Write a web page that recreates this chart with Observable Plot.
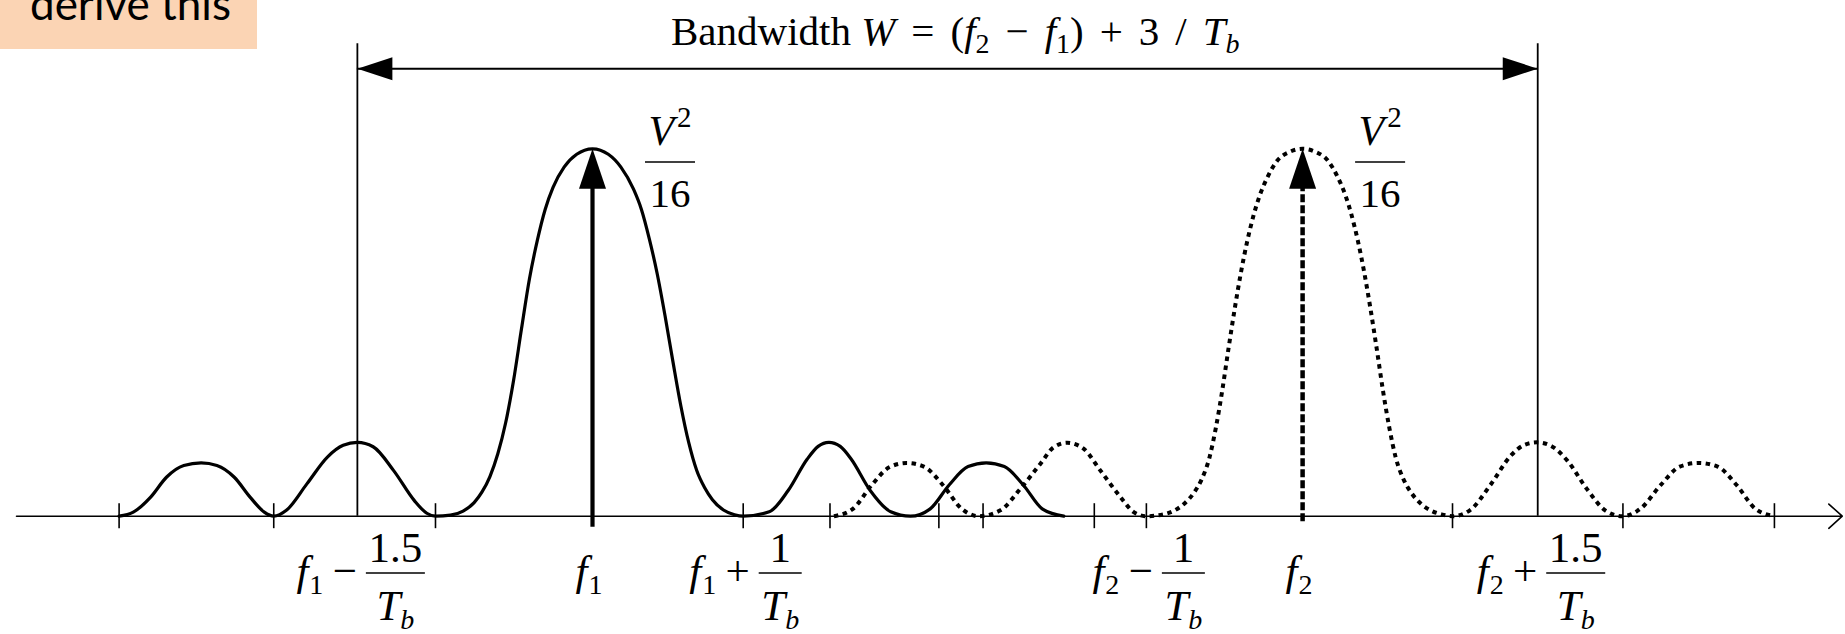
<!DOCTYPE html>
<html>
<head>
<meta charset="utf-8">
<script src="https://cdn.jsdelivr.net/npm/d3@7"></script>
<script src="https://cdn.jsdelivr.net/npm/@observablehq/plot@0.6"></script>
<style>
  html, body { margin: 0; padding: 0; background: #fff; }
  #wrap { position: relative; width: 1845px; height: 634px; overflow: hidden; }
  #note { position: absolute; left: 0; top: 0; }
</style>
</head>
<body>
<div id="wrap">
  <svg id="note" width="257" height="49">
    <rect width="257" height="49" fill="#FBD4B4"></rect>
    <text x="30" y="20" font-family="Lato, 'Open Sans', sans-serif" font-size="44" fill="#000">derive this</text>
  </svg>
</div>
<script>
// Frequencies are in units of 1/Tb measured from f1; power is relative to the V²/16 peak.
const f1 = 0;
const f2 = 4.5;
const peakPower = 1;

// Power spectrum of the f1 tone (solid): [frequency, power]
const toneOne = [
  [-3.00, 0], [-2.91, 0.011], [-2.80, 0.052], [-2.70, 0.106], [-2.59, 0.138], [-2.48, 0.145],
  [-2.38, 0.138], [-2.27, 0.106], [-2.17, 0.052], [-2.08, 0.011], [-2.02, 0],
  [-1.94, 0.016], [-1.81, 0.088], [-1.68, 0.161], [-1.58, 0.193], [-1.49, 0.201], [-1.39, 0.189],
  [-1.26, 0.124], [-1.13, 0.043], [-1.05, 0.008], [-0.995, 0],
  [-0.90, 0.003], [-0.82, 0.014], [-0.75, 0.037], [-0.70, 0.066], [-0.65, 0.108], [-0.60, 0.17],
  [-0.55, 0.255], [-0.50, 0.37], [-0.45, 0.51], [-0.40, 0.645], [-0.35, 0.75], [-0.30, 0.835],
  [-0.25, 0.895], [-0.18, 0.95], [-0.10, 0.985], [0, 1],
  [0.10, 0.985], [0.18, 0.95], [0.26, 0.89], [0.31, 0.835], [0.36, 0.755], [0.41, 0.66],
  [0.46, 0.545], [0.51, 0.42], [0.56, 0.30], [0.61, 0.20], [0.66, 0.125], [0.71, 0.078],
  [0.76, 0.045], [0.83, 0.017], [0.90, 0.004], [0.955, 0],
  [1.12, 0.012], [1.24, 0.07], [1.36, 0.155], [1.43, 0.19], [1.498, 0.201], [1.57, 0.19],
  [1.64, 0.155], [1.76, 0.07], [1.89, 0.012], [2.015, 0],
  [2.14, 0.02], [2.26, 0.085], [2.38, 0.135], [2.495, 0.145], [2.61, 0.135], [2.73, 0.085],
  [2.85, 0.02], [2.987, 0]
];

// Power spectrum of the f2 tone (dashed): [frequency, power]
const toneTwo = [
  [1.53, 0], [1.65, 0.02], [1.77, 0.085], [1.88, 0.133], [1.99, 0.145], [2.10, 0.135],
  [2.22, 0.085], [2.34, 0.02], [2.448, 0],
  [2.585, 0.016], [2.712, 0.075], [2.839, 0.143], [2.923, 0.188], [3.008, 0.200], [3.114, 0.183],
  [3.219, 0.124], [3.346, 0.052], [3.430, 0.011], [3.51, 0],
  [3.62, 0.005], [3.69, 0.016], [3.75, 0.034], [3.81, 0.063], [3.86, 0.10], [3.91, 0.16],
  [3.95, 0.24], [3.99, 0.34], [4.03, 0.455], [4.07, 0.565], [4.11, 0.665], [4.15, 0.75],
  [4.19, 0.82], [4.23, 0.875], [4.28, 0.925], [4.34, 0.968], [4.42, 0.992], [4.5, 1],
  [4.58, 0.992], [4.66, 0.968], [4.72, 0.925], [4.77, 0.875], [4.81, 0.82], [4.85, 0.75],
  [4.89, 0.665], [4.93, 0.565], [4.97, 0.455], [5.01, 0.34], [5.05, 0.24], [5.09, 0.16],
  [5.14, 0.10], [5.19, 0.063], [5.25, 0.034], [5.31, 0.016], [5.38, 0.005], [5.449, 0],
  [5.56, 0.016], [5.69, 0.085], [5.82, 0.165], [5.90, 0.193], [5.986, 0.201], [6.08, 0.19],
  [6.18, 0.15], [6.30, 0.075], [6.42, 0.015], [6.526, 0],
  [6.64, 0.02], [6.77, 0.085], [6.89, 0.135], [7.01, 0.145], [7.13, 0.135], [7.25, 0.085],
  [7.37, 0.02], [7.49, 0]
];

// Tick marks along the frequency axis
const tickFreqs = [-3.00, -2.02, -0.995, 0.955, 1.505, 2.195, 2.475, 3.18, 3.51, 5.45, 6.53, 7.49];

// Bandwidth edges (f1 − 1.5/Tb and f2 + 1.5/Tb)
const bandEdges = [-1.49, 5.99];

// Labels under the axis
const labelFreqs = [-1.49, 0, 0.955, 3.51, 4.5, 5.99];
const labelBase  = ["f", "f", "f", "f", "f", "f"];
const labelSub   = ["1", "1", "1", "2", "2", "2"];
const labelOp    = ["−", "", "+", "−", "", "+"];
const labelNum   = ["1.5", "", "1", "1", "", "1.5"];

// Peaks that carry the V²/16 annotation
const peakFreqs = [f1, f2];

// Axis extent and bandwidth arrow levels
const axisFrom = -3.65;
const axisTo = 7.92;
const bandArrowLevel = 1.218;
const bandLineTop = 1.286;

// Filled arrowheads with the tip at the origin
const headUp = { draw(ctx) { ctx.moveTo(0, 0); ctx.lineTo(-13.5, 40); ctx.lineTo(13.5, 40); ctx.closePath(); } };
const headLeft = { draw(ctx) { ctx.moveTo(0, 0); ctx.lineTo(35, -11.5); ctx.lineTo(35, 11.5); ctx.closePath(); } };
const headRight = { draw(ctx) { ctx.moveTo(0, 0); ctx.lineTo(-35, -11.5); ctx.lineTo(-35, 11.5); ctx.closePath(); } };

const pxPerUnit = 157.8, f1px = 592;
const plot = Plot.plot({
  width: 1845,
  height: 634,
  marginTop: 0, marginRight: 0, marginBottom: 0, marginLeft: 0,
  style: { background: "#fff", overflow: "visible" },
  x: { domain: [(0 - f1px) / pxPerUnit, (1845 - f1px) / pxPerUnit], range: [0, 1845], axis: null },
  y: { domain: [0, 1], range: [515.7, 148.3], axis: null },
  marks: [
    // frequency axis with open arrowhead
    Plot.arrow([{a: axisFrom, b: axisTo}], {x1: "a", x2: "b", y1: 0, y2: 0, stroke: "#000", strokeWidth: 1.6, headLength: 17, headAngle: 84}),
    Plot.ruleX(tickFreqs, {y1: -0.034, y2: 0.034, stroke: "#000", strokeWidth: 1.6}),
    // bandwidth markers
    Plot.ruleX(bandEdges, {y1: 0, y2: bandLineTop, stroke: "#000", strokeWidth: 1.8}),
    Plot.ruleY([bandArrowLevel], {x1: bandEdges[0], x2: bandEdges[1], stroke: "#000", strokeWidth: 2}),
    Plot.dot([bandEdges[0]], {x: d => d, y: bandArrowLevel, symbol: headLeft, fill: "#000", stroke: "none"}),
    Plot.dot([bandEdges[1]], {x: d => d, y: bandArrowLevel, symbol: headRight, fill: "#000", stroke: "none"}),
    // spectra
    Plot.line(toneOne, {x: d => d[0], y: d => d[1], curve: "monotone-x", stroke: "#000", strokeWidth: 3.2}),
    Plot.line(toneTwo, {x: d => d[0], y: d => d[1], curve: "monotone-x", stroke: "#000", strokeWidth: 4, strokeDasharray: "4.5,4.5", strokeLinecap: "butt"}),
    // carrier impulses
    Plot.ruleX([f1], {y1: -0.03, y2: peakPower * 0.9, stroke: "#000", strokeWidth: 4.2}),
    Plot.ruleX([f2], {y1: -0.015, y2: peakPower * 0.9, stroke: "#000", strokeWidth: 4.5, strokeDasharray: "8,3", strokeLinecap: "butt"}),
    Plot.dot(peakFreqs, {x: d => d, y: peakPower, symbol: headUp, fill: "#000", stroke: "none"})
  ]
});

document.getElementById("wrap").prepend(plot);

const X = v => plot.scale("x").apply(v);
const serif = "'Liberation Serif', 'Times New Roman', serif";
const svg = d3.select(plot);
const g = svg.append("g").attr("font-family", serif).attr("fill", "#000");

// Title above the bandwidth arrow, spread to span the formula's width
{
  const left = 671, span = 577, subDrop = 8;
  const pieces = [
    {t: "Bandwidth "}, {t: "W", it: true}, {t: "=", gap: true}, {t: "(", gap: true},
    {t: "f", it: true}, {t: "2", sub: true}, {t: "−", gap: true}, {t: "f", it: true, gap: true},
    {t: "1", sub: true}, {t: ")"}, {t: "+", gap: true}, {t: "3", gap: true}, {t: "/", gap: true},
    {t: "T", it: true, gap: true}, {t: "b", it: true, sub: true}
  ];
  const t = g.append("text").attr("x", left).attr("y", 45).attr("text-anchor", "start").attr("font-size", 41);
  let lowered = false;
  const spans = pieces.map(p => {
    const s = t.append("tspan").text(p.t);
    if (p.it) s.attr("font-style", "italic");
    if (p.sub) { s.attr("font-size", 28).attr("dy", subDrop); lowered = true; }
    else if (lowered) { s.attr("dy", -subDrop); lowered = false; }
    return s;
  });
  const natural = t.node().getComputedTextLength();
  const nGaps = pieces.filter(p => p.gap).length;
  const gap = Math.max(0, Math.min(16, (span - natural) / nGaps));
  pieces.forEach((p, i) => { if (p.gap) spans[i].attr("dx", gap); });
}

// V²/16 beside each peak
for (const p of peakFreqs) {
  const cx = X(p) + 78;
  const t = g.append("text").attr("x", cx).attr("y", 145).attr("text-anchor", "middle").attr("font-size", 42);
  t.append("tspan").attr("font-style", "italic").text("V");
  t.append("tspan").attr("font-size", 29).attr("dx", 3).attr("dy", -18).text("2");
  g.append("line").attr("x1", cx - 25).attr("x2", cx + 25).attr("y1", 162).attr("y2", 162)
    .attr("stroke", "#000").attr("stroke-width", 1.6);
  g.append("text").attr("x", cx).attr("y", 207).attr("text-anchor", "middle").attr("font-size", 41).text("16");
}

// Frequency labels under the axis
labelFreqs.forEach((fr, i) => {
  const ax = X(fr);
  const base = 585, fs = 43, sfs = 28;
  const hasFrac = labelNum[i] !== "";
  const fx = (cx) => {
    const t = g.append("text").attr("x", cx).attr("y", base).attr("text-anchor", "middle").attr("font-size", fs);
    t.append("tspan").attr("font-style", "italic").text(labelBase[i]);
    t.append("tspan").attr("font-size", sfs).attr("dy", 9).attr("dx", 1).text(labelSub[i]);
  };
  if (!hasFrac) { fx(ax - 3); return; }
  const barW = labelNum[i].length > 1 ? 59 : 43;
  const bx = ax + (barW > 50 ? 9 : 16);
  const mid = bx + barW / 2;
  fx(bx - 56);
  g.append("text").attr("x", bx - 21).attr("y", base).attr("text-anchor", "middle").attr("font-size", fs).text(labelOp[i]);
  g.append("line").attr("x1", bx).attr("x2", bx + barW).attr("y1", 573).attr("y2", 573)
    .attr("stroke", "#000").attr("stroke-width", 1.6);
  g.append("text").attr("x", mid).attr("y", 562).attr("text-anchor", "middle").attr("font-size", fs).text(labelNum[i]);
  const d = g.append("text").attr("x", mid).attr("y", 620).attr("text-anchor", "middle").attr("font-size", fs);
  d.append("tspan").attr("font-style", "italic").text("T");
  d.append("tspan").attr("font-style", "italic").attr("font-size", sfs).attr("dy", 9).text("b");
});
</script>
</body>
</html>
